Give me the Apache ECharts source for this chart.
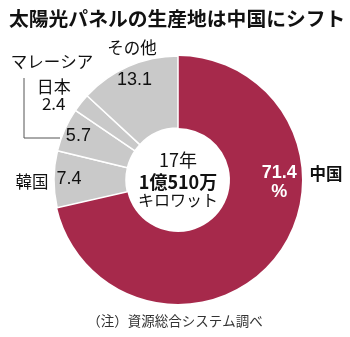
<!DOCTYPE html>
<html>
<head>
<meta charset="utf-8">
<script src="https://cdn.jsdelivr.net/npm/echarts/dist/echarts.min.js"></script>
<style>
  html, body { margin: 0; padding: 0; background: #fff; }
  #chart { width: 350px; height: 337px; }
</style>
</head>
<body>
<div id="chart"></div>
<script>
// Solar panel production share by country, 2017 (%)
const countries = ['中国', '韓国', 'マレーシア', '日本', 'その他'];
const shares = [71.4, 7.4, 5.7, 2.4, 13.1];
const sliceColors = ['#a6294b', '#c9c9c9', '#c9c9c9', '#c9c9c9', '#c9c9c9'];

const titleText = '太陽光パネルの生産地は中国にシフト';
const centerLines = ['17年', '1億510万', 'キロワット'];
const noteText = '（注）資源総合システム調べ';

const JP = '"Noto Sans CJK JP", sans-serif';
const NUM = '"Liberation Sans", "Noto Sans CJK JP", sans-serif';

const cx = 178, cy = 180;

const sliceData = countries.map((name, i) => ({
  name,
  value: shares[i],
  itemStyle: {
    color: sliceColors[i],
    borderColor: i === 0 ? sliceColors[i] : '#ffffff',
    borderWidth: i === 0 ? 0 : 1.5
  }
}));

// value labels ride on a transparent ring so they sit near the outer edge
const labelData = countries.map((name, i) => ({
  name,
  value: shares[i],
  itemStyle: { color: 'rgba(0,0,0,0)' },
  label: i === 0
    ? { formatter: '{c}\n%', color: '#ffffff', fontWeight: 'bold', fontSize: 18, lineHeight: 19 }
    : i === 3
      ? { formatter: '日本\n{c}', fontSize: 17, lineHeight: 17, fontFamily: JP }
      : {}
}));

const chart = echarts.init(document.getElementById('chart'), null, { renderer: 'canvas' });

chart.setOption({
  animation: false,
  backgroundColor: '#ffffff',
  series: [
    {
      type: 'pie',
      center: [cx, cy],
      radius: [52, 124],
      startAngle: 90,
      clockwise: true,
      silent: true,
      label: { show: false },
      labelLine: { show: false },
      data: sliceData
    },
    {
      type: 'pie',
      center: [cx, cy],
      radius: [78, 134],
      startAngle: 90,
      clockwise: true,
      silent: true,
      avoidLabelOverlap: false,
      label: {
        show: true,
        position: 'inside',
        formatter: '{c}',
        color: '#111',
        fontSize: 18,
        fontFamily: NUM
      },
      labelLine: { show: false },
      labelLayout: function (p) {
        if (p.dataIndex === 0) return { dx: 16, dy: -65 };
        if (p.dataIndex === 3) return { dx: -39, dy: -17 };
        return {};
      },
      data: labelData,
      z: 3
    }
  ],
  graphic: [
    {
      type: 'text', left: 9, top: 9,
      style: { text: titleText, font: 'bold 19.8px ' + JP, fill: '#111' }
    },
    {
      type: 'text', x: 132, y: 48,
      style: { text: countries[4], font: '16.5px ' + JP, fill: '#111', align: 'center', verticalAlign: 'middle' }
    },
    {
      type: 'text', x: 52, y: 62,
      style: { text: countries[2], font: '16.5px ' + JP, fill: '#111', align: 'center', verticalAlign: 'middle' }
    },
    {
      type: 'polyline',
      shape: { points: [[24, 78], [24, 138], [60, 138]] },
      style: { stroke: '#555', lineWidth: 1, fill: null }
    },
    {
      type: 'text', x: 32, y: 182,
      style: { text: countries[1], font: '16.5px ' + JP, fill: '#111', align: 'center', verticalAlign: 'middle' }
    },
    {
      type: 'text', x: 326, y: 174,
      style: { text: countries[0], font: 'bold 16.5px ' + JP, fill: '#111', align: 'center', verticalAlign: 'middle' }
    },
    {
      type: 'text', x: cx, y: 160,
      style: { text: centerLines[0], font: '18px ' + JP, fill: '#111', align: 'center', verticalAlign: 'middle' }
    },
    {
      type: 'text', x: cx, y: 182,
      style: { text: centerLines[1], font: 'bold 18px ' + JP, fill: '#111', align: 'center', verticalAlign: 'middle' }
    },
    {
      type: 'text', x: cx, y: 200,
      style: { text: centerLines[2], font: '16px ' + JP, fill: '#111', align: 'center', verticalAlign: 'middle' }
    },
    {
      type: 'text', x: 175, y: 321,
      style: { text: noteText, font: '13.5px ' + JP, fill: '#333', align: 'center', verticalAlign: 'middle' }
    }
  ]
});
</script>
</body>
</html>
